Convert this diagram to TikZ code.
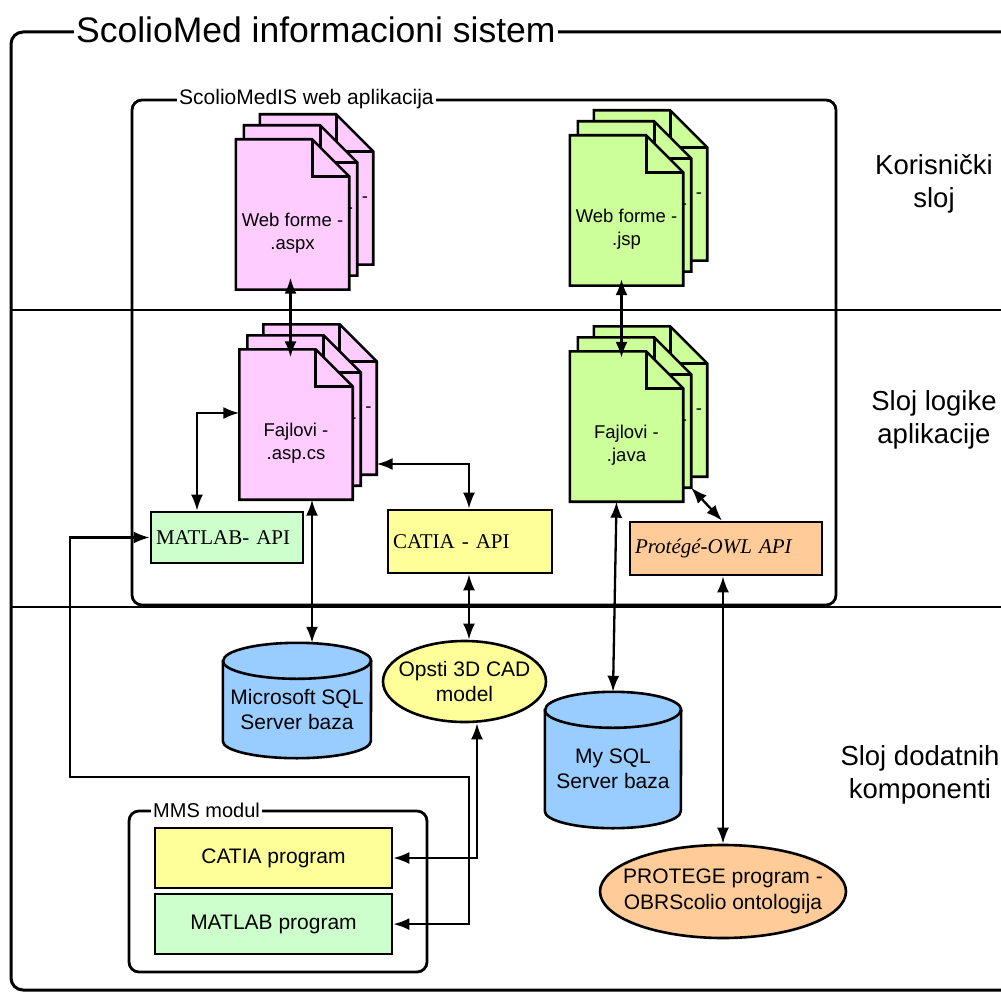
\documentclass[tikz,border=0pt]{standalone}
\usepackage{fontspec}
\setmainfont{Liberation Sans}
\newfontfamily\apifont{Liberation Serif}
\usepackage{xcolor}
\usepackage{tikz}
\usetikzlibrary{arrows.meta, positioning, shapes.geometric, calc}

\definecolor{pinkdoc}{HTML}{FFCCFF}
\definecolor{greendoc}{HTML}{CCFF99}
\definecolor{mintbox}{HTML}{CCFFCC}
\definecolor{yellowbox}{HTML}{FFFF99}
\definecolor{orangebox}{HTML}{FFCC99}
\definecolor{dbblue}{HTML}{99CCFF}

% Hoja con esquina doblada: nombre, centro, color
\newcommand{\docpage}[3]{%
  \node[docnode] (#1) at (#2) {};
  \filldraw[docline, fill=#3] (#1.north west) -- ([xshift=-37pt]#1.north east)
    -- ([yshift=-37pt]#1.north east) -- (#1.south east) -- (#1.south west) -- cycle;
  \draw[docline] ([xshift=-37pt]#1.north east) |- ([yshift=-37pt]#1.north east);
}
% Pila de tres hojas: nombre, centro, color, texto
\newcommand{\docstack}[4]{%
  \docpage{#1-3}{$(#2)+(24,-25)$}{#3}
  \node[doctext] (#1-3-txt) at ([xshift=48.5pt,yshift=-10pt]#1-3.center) {-};
  \docpage{#1-2}{$(#2)+(8,-14)$}{#3}
  \node[doctext] (#1-2-txt) at ([xshift=49.5pt,yshift=-10pt]#1-2.center) {-};
  \docpage{#1}{#2}{#3}
  \node[doctext] (#1-txt) at ([yshift=-19pt]#1.center) {#4};
}
% Cilindro de base de datos: nombre, centro, ancho, alto, texto
\newcommand{\dbcylinder}[5]{%
  \node[dbnode, minimum width=#3pt, minimum height=#4pt] (#1) at (#2) {};
  \filldraw[dbline] ([yshift=-18pt]#1.north west) -- ([yshift=17pt]#1.south west)
    arc[start angle=180, end angle=360, x radius=#3pt/2, y radius=17pt]
    -- ([yshift=-18pt]#1.north east)
    arc[start angle=0, end angle=180, x radius=#3pt/2, y radius=18pt] -- cycle;
  \draw[dbline, fill=none] ([yshift=-18pt]#1.north west)
    arc[start angle=180, end angle=360, x radius=#3pt/2, y radius=18pt];
  \node[boxtext] (#1-txt) at ([yshift=-9pt]#1.center) {#5};
}

\begin{document}
\begin{tikzpicture}[
            x=1pt, y=-1pt,                     % coordenadas en pixeles de la imagen
            node distance=3.5pt,
            frame/.style={draw=black, line width=3pt, rounded corners=12pt},
            panel/.style={draw=black, line width=2.8pt, rounded corners=10pt},
            layerline/.style={draw=black, line width=1.8pt},
            frametitle/.style={fill=white, inner xsep=2pt, inner ysep=0pt, anchor=base west},
            layer/.style={align=center, font=\fontsize{27.5pt}{33pt}\selectfont},
            docnode/.style={rectangle, minimum width=113pt, minimum height=150pt, inner sep=0pt},
            docline/.style={draw=black, line width=2.6pt},
            doctext/.style={align=center, font=\fontsize{18.5pt}{23pt}\selectfont},
            dbnode/.style={rectangle, inner sep=0pt},
            dbline/.style={draw=black, fill=dbblue, line width=2.6pt},
            boxtext/.style={align=center, font=\fontsize{21pt}{25.5pt}\selectfont},
            apibox/.style={
                rectangle,
                draw=black,
                line width=2.6pt,
                inner xsep=5pt,
                inner ysep=0pt,
                align=left,
                font=\apifont\fontsize{21pt}{25pt}\selectfont
            },
            progbox/.style={
                rectangle,
                draw=black,
                line width=2.6pt,
                minimum width=237pt,
                minimum height=60pt,
                boxtext
            },
            ovalnode/.style={ellipse, draw=black, line width=2.6pt, inner xsep=-25pt, inner ysep=0pt, boxtext},
            line/.style={
                draw,
                line width=2.3pt,
                >={Latex[length=16pt,width=12pt]},
                <->
            }
        ]
            \useasboundingbox (0,0) rectangle (1001,992);
            \clip (0,0) rectangle (1001,992);

            % --- MARCOS Y CAPAS ---
            \draw[layerline] (11,310) -- (1040,310);
            \draw[layerline] (11,607) -- (1040,607);
            \draw[frame] (11,32) rectangle (1040,990);
            \draw[panel] (132,100) rectangle (836,605);
            \draw[panel] (129,811) rectangle (427,972);

            \node[frametitle, font=\fontsize{35.5pt}{42pt}\selectfont] (systitle) at (74,43) {ScolioMed informacioni sistem};
            \node[frametitle, font=\fontsize{21pt}{25pt}\selectfont] (webtitle) at (177,105) {ScolioMedIS web aplikacija};
            \node[frametitle, font=\fontsize{20pt}{24pt}\selectfont] (mmstitle) at (151,817) {MMS modul};

            \node[layer] (userlayer) at (934,183.5) {Korisnički\\sloj};
            \node[layer] (logiclayer) at (934,420) {Sloj logike\\aplikacije};
            \node[layer] (extralayer) at (920,775) {Sloj dodatnih\\komponenti};

            % --- DOCUMENTOS ---
            \docstack{aspx}{292.5,214.5}{pinkdoc}{Web forme -\\.aspx}
            \docstack{aspxcs}{296,424.5}{pinkdoc}{Fajlovi -\\.asp.cs}
            \docstack{jsp}{626.5,210.5}{greendoc}{Web forme -\\.jsp}
            \docstack{java}{626.5,426.5}{greendoc}{Fajlovi -\\.java}

            % --- API ---
            \node[apibox, fill=mintbox, minimum width=152pt, minimum height=51pt, text width=142pt] (matlabapi) at (227,537.5) {MATLAB- API};
            \node[apibox, fill=yellowbox, minimum width=164pt, minimum height=63pt, text width=154pt] (catiaapi) at (470,541.5) {CATIA - API};
            \node[apibox, fill=orangebox, minimum width=192pt, minimum height=53pt, text width=182pt,
                  font=\apifont\itshape\fontsize{21pt}{25pt}\selectfont] (protapi) at (726,548.5) {Protégé-OWL API};

            % --- KOMPONENTE ---
            \dbcylinder{mssql}{297,700.5}{148}{115}{Microsoft SQL\\Server baza}
            \dbcylinder{mysql}{613,760}{136}{136}{My SQL\\Server baza}
            \node[ovalnode, fill=yellowbox, minimum width=163pt, minimum height=81pt] (opsti) at (464.5,681.5) {Opsti 3D CAD\\model};
            \node[ovalnode, fill=orangebox, minimum width=246pt, minimum height=93pt] (protege) at (723,891.5) {PROTEGE program -\\OBRScolio ontologija};
            \node[progbox, fill=yellowbox] (catiaprog) at (273.5,858) {CATIA program};
            \node[progbox, fill=mintbox, below=of catiaprog] (matlabprog) {MATLAB program};

            % --- ENLACES ---
            \path [line] ([xshift=-2pt,yshift=12pt]aspx.south) -- ([xshift=-5.5pt,yshift=-8pt]aspxcs.north);
            \path [line] ([yshift=11.5pt]aspxcs.west) -| ([xshift=-30pt]matlabapi.north);
            \path [line] ([yshift=-64.5pt]aspxcs-3.east) -| ([xshift=-1pt]catiaapi.north);
            \path [line] ([xshift=16pt]aspxcs.south) -- ([xshift=15pt]mssql.north);
            \path [line] ([xshift=-1pt]catiaapi.south) -- ([xshift=4.5pt]opsti.north);
            \path [line] ([xshift=12.5pt]opsti.south) |- (catiaprog.east);
            \path [line] (matlabapi.west) -| (70,777) -| ([xshift=76pt]matlabprog.east) |- (matlabprog.east);
            \path [line] ([xshift=-5pt,yshift=6.5pt]jsp.south) -- ([xshift=-5pt,yshift=-6.5pt]java.north);
            \path [line] ([xshift=-10pt]java.south) -- (mysql.north);
            \path [line] (java-2.south east) -- ([xshift=-4pt]protapi.north);
            \path [line] ([xshift=-3pt]protapi.south) -- (protege.north);
        \end{tikzpicture}
\end{document}
